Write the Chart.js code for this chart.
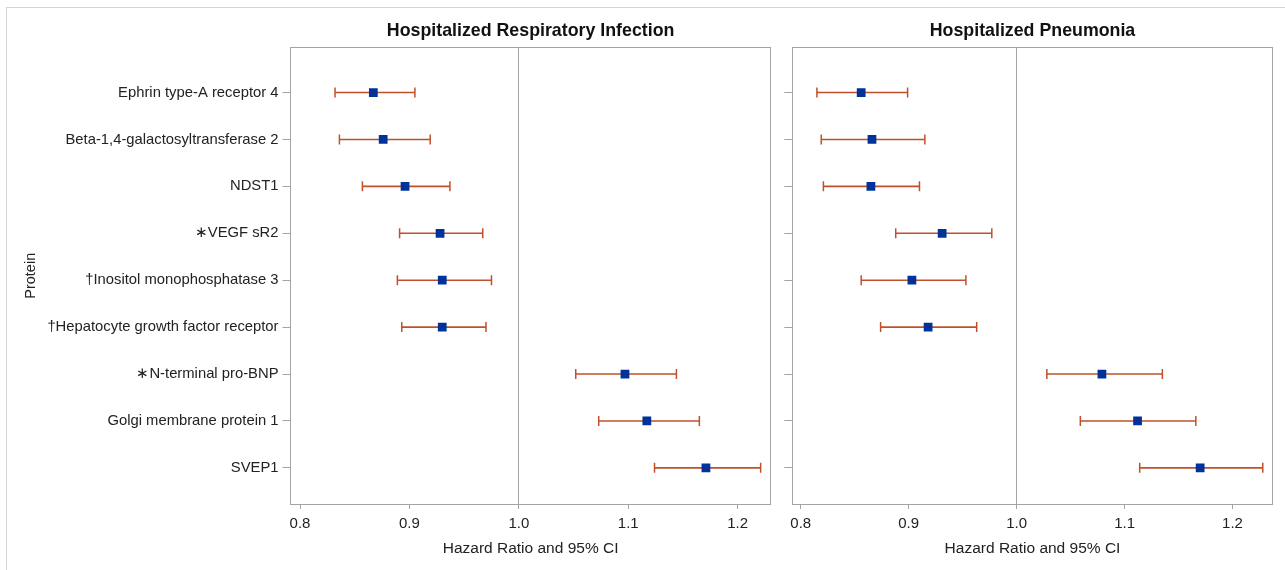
<!DOCTYPE html>
<html>
<head>
<meta charset="utf-8">
<script src="https://cdn.jsdelivr.net/npm/chart.js@4.4.1/dist/chart.umd.min.js"></script>
<style>
  html, body { margin:0; padding:0; background:#fff; width:1285px; height:570px; overflow:hidden; }
  #frame { position:absolute; left:6px; top:7px; width:1300px; height:600px; border-left:1px solid #d4d4d4; border-top:1px solid #d4d4d4; }
  .wrap { position:absolute; top:0; height:570px; }
  #w1 { left:0; width:780px; }
  #w2 { left:780px; width:505px; }
</style>
</head>
<body>
<div id="frame"></div>
<div class="wrap" id="w1"><canvas id="c1"></canvas></div>
<div class="wrap" id="w2"><canvas id="c2"></canvas></div>
<script>
// ---- data ----
const proteins = [
  'Ephrin type-A receptor 4',
  'Beta-1,4-galactosyltransferase 2',
  'NDST1',
  '\u2217VEGF sR2',
  '\u2020Inositol monophosphatase 3',
  '\u2020Hepatocyte growth factor receptor',
  '\u2217N-terminal pro-BNP',
  'Golgi membrane protein 1',
  'SVEP1'
];
const panelTitles = ['Hospitalized Respiratory Infection', 'Hospitalized Pneumonia'];
const xAxisTitle = 'Hazard Ratio and 95% CI';
const yAxisTitle = 'Protein';
const xTicks = [0.8, 0.9, 1.0, 1.1, 1.2];

const respHR   = [0.867, 0.876, 0.896, 0.928, 0.930, 0.930, 1.097, 1.117, 1.171];
const respLow  = [0.832, 0.836, 0.857, 0.891, 0.889, 0.893, 1.052, 1.073, 1.124];
const respHigh = [0.905, 0.919, 0.937, 0.967, 0.975, 0.970, 1.144, 1.165, 1.221];

const pneuHR   = [0.856, 0.866, 0.865, 0.931, 0.903, 0.918, 1.079, 1.112, 1.170];
const pneuLow  = [0.815, 0.819, 0.821, 0.888, 0.856, 0.874, 1.028, 1.059, 1.114];
const pneuHigh = [0.899, 0.915, 0.910, 0.977, 0.953, 0.963, 1.135, 1.166, 1.228];

// ---- styles ----
const FONT = "'Liberation Sans', Arial, Helvetica, sans-serif";
const axisColor = '#a3a3a3';
const textColor = '#222222';
const barColor = '#c0502a';
const markerColor = '#00339a';

function buildDatasets(hr, lo, hi) {
  const ds = [];
  ds.push({
    label: 'HR', order: 0,
    data: hr.map((v, i) => ({ x: v, y: i + 1 })),
    pointStyle: 'rect', pointRadius: 6.2, pointHoverRadius: 6.2,
    pointBackgroundColor: markerColor, pointBorderColor: markerColor, pointBorderWidth: 0,
    showLine: false
  });
  ds.push({
    label: 'caps', order: 1,
    data: lo.map((v, i) => ({ x: v, y: i + 1 })).concat(hi.map((v, i) => ({ x: v, y: i + 1 }))),
    pointStyle: 'line', pointRotation: 90, pointRadius: 5, pointHoverRadius: 5,
    pointBorderColor: barColor, pointBorderWidth: 1.5, showLine: false
  });
  lo.forEach((v, i) => {
    ds.push({
      label: 'ci' + i, order: 2,
      data: [{ x: lo[i], y: i + 1 }, { x: hi[i], y: i + 1 }],
      showLine: true, borderColor: barColor, borderWidth: 1.6,
      pointRadius: 0, pointHoverRadius: 0, fill: false
    });
  });
  return ds;
}

function makeChart(id, title, hr, lo, hi, xmin, xmax, showLabels, padL, yWidth, padR) {
  return new Chart(document.getElementById(id), {
    type: 'scatter',
    data: { datasets: buildDatasets(hr, lo, hi) },
    options: {
      responsive: true, maintainAspectRatio: false, animation: false,
      layout: { padding: { left: padL, right: padR, top: 0, bottom: 0 } },
      plugins: { legend: { display: false }, tooltip: { enabled: false } },
      scales: {
        x: {
          type: 'linear', position: 'bottom', min: xmin, max: xmax,
          afterBuildTicks: a => { a.ticks = xTicks.map(v => ({ value: v })); },
          afterFit: a => { a.height = 66; },
          ticks: { callback: v => Number(v).toFixed(1), font: { family: FONT, size: 15 }, color: textColor, padding: 6, maxRotation: 0, autoSkip: false },
          grid: {
            drawOnChartArea: true, drawTicks: true, tickLength: 5, tickColor: axisColor, lineWidth: 1,
            color: c => (c.tick && Math.abs(c.tick.value - 1) < 1e-9) ? axisColor : 'rgba(0,0,0,0)'
          },
          border: { display: true, color: axisColor, width: 1 },
          title: { display: true, text: xAxisTitle, font: { family: FONT, size: 15.5 }, color: textColor, padding: { top: 0, bottom: 12.4 } }
        },
        x2: {
          type: 'linear', position: 'top', min: xmin, max: xmax,
          afterFit: a => { a.height = 47.5; },
          ticks: { display: false },
          grid: { display: false },
          border: { display: true, color: axisColor, width: 1 },
          title: { display: true, text: title, font: { family: FONT, size: 17.8, weight: 'bold' }, color: '#111', padding: { top: 20.3, bottom: 0 } }
        },
        y: {
          type: 'linear', position: 'left', reverse: true, min: 0.04, max: 9.77,
          afterBuildTicks: a => { a.ticks = proteins.map((p, i) => ({ value: i + 1 })); },
          afterFit: a => { a.width = yWidth; },
          ticks: { display: showLabels, callback: v => proteins[Math.round(v) - 1], font: { family: FONT, size: 14.8 }, color: textColor, padding: 4, autoSkip: false },
          grid: { drawOnChartArea: false, drawTicks: true, tickLength: 8, tickColor: axisColor, color: axisColor },
          border: { display: true, color: axisColor, width: 1 },
          title: { display: showLabels, text: yAxisTitle, font: { family: FONT, size: 14.5 }, color: textColor, padding: { top: 4, bottom: 0 } }
        },
        y2: {
          type: 'linear', position: 'right', min: 0, max: 10,
          afterFit: a => { a.width = 0; },
          ticks: { display: false },
          grid: { display: false },
          border: { display: true, color: axisColor, width: 1 }
        }
      }
    }
  });
}

makeChart('c1', panelTitles[0], respHR, respLow, respHigh, 0.7913, 1.2302, true, 18, 272.5, 9.3);
makeChart('c2', panelTitles[1], pneuHR, pneuLow, pneuHigh, 0.7922, 1.2372, false, 0, 12.3, 12.3);
</script>
</body>
</html>
